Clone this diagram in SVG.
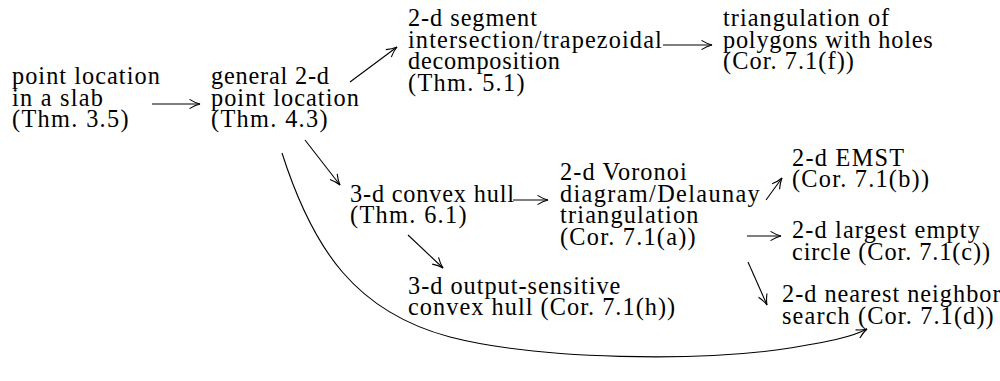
<svg xmlns="http://www.w3.org/2000/svg" width="1000" height="381" viewBox="0 0 1000 381">
<style>
text{font-family:"Liberation Serif","Times New Roman",serif;font-size:24.3px;fill:#000}
.c{fill:none;stroke:#000;stroke-width:1.1}
</style>
<defs>
<marker id="ah" markerUnits="userSpaceOnUse" viewBox="-12 -7 14 14" refX="0" refY="0" markerWidth="14" markerHeight="14" orient="auto">
<path d="M-10.5,-4.6 C-6,-1.8 -2.5,-0.6 0,0 C-2.5,0.6 -6,1.8 -10.5,4.6" fill="none" stroke="#000" stroke-width="1.1"/>
</marker>
</defs>
<rect width="1000" height="381" fill="#fff"/>
<g id="n-slab">
<text x="12" y="84" textLength="147.8" lengthAdjust="spacing">point location</text>
<text x="12" y="105.5" textLength="91" lengthAdjust="spacing">in a slab</text>
<text x="12" y="127" textLength="116.6" lengthAdjust="spacing">(Thm. 3.5)</text>
</g>
<g id="n-general">
<text x="211" y="84" textLength="118" lengthAdjust="spacing">general 2-d</text>
<text x="211" y="105.5" textLength="147.8" lengthAdjust="spacing">point location</text>
<text x="211" y="127" textLength="116.6" lengthAdjust="spacing">(Thm. 4.3)</text>
</g>
<g id="n-segment">
<text x="408" y="26" textLength="128.9" lengthAdjust="spacing">2-d segment</text>
<text x="408" y="47.5" textLength="253.8" lengthAdjust="spacing">intersection/trapezoidal</text>
<text x="408" y="69" textLength="152" lengthAdjust="spacing">decomposition</text>
<text x="408" y="90.5" textLength="116.6" lengthAdjust="spacing">(Thm. 5.1)</text>
</g>
<g id="n-triang">
<text x="723" y="26" textLength="166.2" lengthAdjust="spacing">triangulation of</text>
<text x="723" y="47.5" textLength="209.7" lengthAdjust="spacing">polygons with holes</text>
<text x="723" y="69" textLength="130.9" lengthAdjust="spacing">(Cor. 7.1(f))</text>
</g>
<g id="n-hull">
<text x="350" y="201.5" textLength="164" lengthAdjust="spacing">3-d convex hull</text>
<text x="350" y="223" textLength="116.6" lengthAdjust="spacing">(Thm. 6.1)</text>
</g>
<g id="n-voronoi">
<text x="560" y="180" textLength="126.8" lengthAdjust="spacing">2-d Voronoi</text>
<text x="560" y="201.5" textLength="199.7" lengthAdjust="spacing">diagram/Delaunay</text>
<text x="560" y="223" textLength="138.4" lengthAdjust="spacing">triangulation</text>
<text x="560" y="244.5" textLength="135.6" lengthAdjust="spacing">(Cor. 7.1(a))</text>
</g>
<g id="n-emst">
<text x="792" y="165.5" textLength="112.2" lengthAdjust="spacing">2-d EMST</text>
<text x="792" y="187" textLength="137" lengthAdjust="spacing">(Cor. 7.1(b))</text>
</g>
<g id="n-circle">
<text x="792" y="238" textLength="187.9" lengthAdjust="spacing">2-d largest empty</text>
<text x="792" y="259.5" textLength="198" lengthAdjust="spacing">circle (Cor. 7.1(c))</text>
</g>
<g id="n-nn">
<text x="782" y="302" textLength="218.5" lengthAdjust="spacing">2-d nearest neighbor</text>
<text x="782" y="323.5" textLength="211.7" lengthAdjust="spacing">search (Cor. 7.1(d))</text>
</g>
<g id="n-outhull">
<text x="408" y="293.5" textLength="212.4" lengthAdjust="spacing">3-d output-sensitive</text>
<text x="408" y="315" textLength="267.2" lengthAdjust="spacing">convex hull (Cor. 7.1(h))</text>
</g>
<g id="connectors">
<path class="c" marker-end="url(#ah)" d="M152,104 L200,104"/>
<path class="c" marker-end="url(#ah)" d="M350,82 L397,47"/>
<path class="c" marker-end="url(#ah)" d="M663,45 L712,45"/>
<path class="c" marker-end="url(#ah)" d="M305,140 L340,185"/>
<path class="c" marker-end="url(#ah)" d="M513,200 L548,200"/>
<path class="c" marker-end="url(#ah)" d="M408,235 L443,268"/>
<path class="c" marker-end="url(#ah)" d="M766,200 L782,178"/>
<path class="c" marker-end="url(#ah)" d="M747,236 L781,236"/>
<path class="c" marker-end="url(#ah)" d="M748,262 L767,305"/>
<path class="c" marker-end="url(#ah)" d="M282,153 C313,250 356,312 450,337 C540,360 700,362 790,348 C825,342 850,338 867,329"/>
</g>
</svg>
